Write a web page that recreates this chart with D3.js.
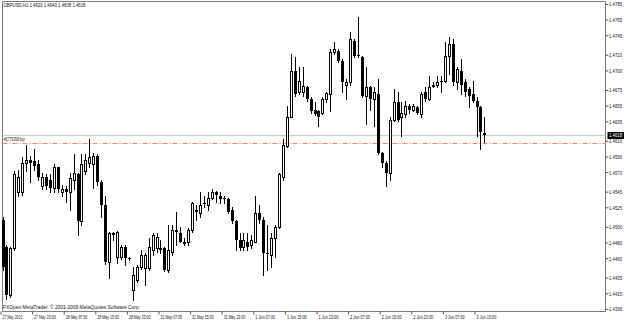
<!DOCTYPE html>
<html>
<head>
<meta charset="utf-8">
<title>GBPUSD,H1</title>
<script src="https://d3js.org/d3.v7.min.js"></script>
<style>
  body{margin:0;background:#fff;}
  svg{display:block;font-family:"Liberation Sans",Arial,sans-serif;}
  .lbl{font-size:5.6px;fill:#111;}
</style>
</head>
<body>
<div id="chart"></div>
<script>
// GBPUSD H1 bars, 27 May 2010 15:00 .. 3 Jun 2010 17:00
const opens = [
  1.4509,1.4474,1.4413,1.4473,1.4545,1.4544,1.4581,1.4585,1.4584,1.4580,
  1.4552,1.4564,1.4560,1.4550,1.4576,1.4545,1.4549,1.4544,1.4560,1.4567,
  1.4507,1.4571,1.4582,1.4580,1.4590,1.4557,1.4528,1.4455,1.4492,1.4462,
  1.4462,1.4474,1.4460,1.4419,1.4432,1.4449,1.4448,1.4448,1.4471,1.4473,
  1.4473,1.4473,1.4445,1.4468,1.4496,1.4492,1.4481,1.4480,1.4496,1.4522,
  1.4518,1.4531,1.4528,1.4537,1.4544,1.4539,1.4537,1.4535,1.4522,1.4507,
  1.4483,1.4474,1.4481,1.4477,1.4481,1.4518,1.4509,1.4467,1.4464,1.4486,
  1.4500,1.4564,1.4603,1.4641,1.4699,1.4672,1.4672,1.4679,1.4663,1.4650,
  1.4648,1.4646,1.4663,1.4670,1.4723,1.4725,1.4712,1.4682,1.4685,1.4738,
  1.4720,1.4717,1.4667,1.4679,1.4663,1.4670,1.4595,1.4582,1.4569,1.4637,
  1.4659,1.4640,1.4644,1.4654,1.4650,1.4653,1.4644,1.4672,1.4663,1.4680,
  1.4681,1.4686,1.4686,1.4718,1.4734,1.4685,1.4699,1.4685,1.4676,1.4670,
  1.4661,1.4653,1.4620
];
const highs = [
  1.4512,1.4477,1.4474,1.4572,1.4573,1.4589,1.4605,1.4590,1.4599,1.4586,
  1.4569,1.4567,1.4567,1.4580,1.4577,1.4554,1.4552,1.4569,1.4593,1.4569,
  1.4593,1.4593,1.4612,1.4595,1.4593,1.4560,1.4539,1.4494,1.4494,1.4495,
  1.4477,1.4477,1.4462,1.4449,1.4451,1.4471,1.4467,1.4486,1.4492,1.4492,
  1.4483,1.4474,1.4503,1.4503,1.4519,1.4500,1.4486,1.4499,1.4532,1.4528,
  1.4544,1.4539,1.4544,1.4548,1.4546,1.4544,1.4540,1.4537,1.4525,1.4509,
  1.4492,1.4492,1.4492,1.4490,1.4539,1.4528,1.4512,1.4503,1.4492,1.4503,
  1.4569,1.4612,1.4654,1.4721,1.4717,1.4705,1.4705,1.4680,1.4666,1.4659,
  1.4650,1.4666,1.4673,1.4727,1.4736,1.4727,1.4714,1.4689,1.4749,1.4740,
  1.4768,1.4718,1.4704,1.4680,1.4679,1.4689,1.4596,1.4584,1.4640,1.4676,
  1.4673,1.4659,1.4661,1.4657,1.4657,1.4654,1.4672,1.4679,1.4693,1.4685,
  1.4693,1.4693,1.4736,1.4743,1.4740,1.4705,1.4714,1.4689,1.4679,1.4686,
  1.4666,1.4654,1.4640
];
const lows = [
  1.4445,1.4408,1.4410,1.4471,1.4539,1.4541,1.4571,1.4557,1.4573,1.4560,
  1.4549,1.4548,1.4545,1.4544,1.4544,1.4539,1.4532,1.4522,1.4548,1.4490,
  1.4503,1.4567,1.4576,1.4550,1.4554,1.4513,1.4453,1.4435,1.4483,1.4454,
  1.4459,1.4451,1.4458,1.4407,1.4430,1.4446,1.4426,1.4445,1.4464,1.4468,
  1.4467,1.4444,1.4442,1.4464,1.4477,1.4480,1.4477,1.4477,1.4494,1.4509,
  1.4512,1.4526,1.4522,1.4535,1.4532,1.4531,1.4531,1.4518,1.4505,1.4471,
  1.4471,1.4471,1.4471,1.4473,1.4480,1.4505,1.4439,1.4445,1.4449,1.4462,
  1.4499,1.4560,1.4602,1.4640,1.4667,1.4670,1.4667,1.4661,1.4646,1.4643,
  1.4629,1.4644,1.4659,1.4648,1.4721,1.4711,1.4672,1.4663,1.4682,1.4717,
  1.4717,1.4666,1.4631,1.4650,1.4629,1.4593,1.4576,1.4552,1.4560,1.4635,
  1.4635,1.4616,1.4641,1.4646,1.4648,1.4644,1.4641,1.4661,1.4662,1.4679,
  1.4679,1.4673,1.4685,1.4695,1.4682,1.4676,1.4670,1.4667,1.4653,1.4659,
  1.4616,1.4599,1.4608
];
const closes = [
  1.4449,1.4413,1.4473,1.4567,1.4564,1.4581,1.4585,1.4582,1.4578,1.4564,
  1.4564,1.4552,1.4550,1.4576,1.4548,1.4549,1.4545,1.4563,1.4569,1.4507,
  1.4580,1.4586,1.4589,1.4590,1.4557,1.4528,1.4455,1.4492,1.4490,1.4494,
  1.4474,1.4460,1.4459,1.4439,1.4449,1.4464,1.4464,1.4474,1.4490,1.4487,
  1.4471,1.4445,1.4471,1.4496,1.4494,1.4481,1.4478,1.4496,1.4531,1.4519,
  1.4528,1.4530,1.4537,1.4544,1.4541,1.4535,1.4536,1.4519,1.4507,1.4483,
  1.4473,1.4483,1.4474,1.4483,1.4518,1.4509,1.4467,1.4466,1.4486,1.4500,
  1.4567,1.4605,1.4641,1.4699,1.4670,1.4686,1.4680,1.4663,1.4648,1.4644,
  1.4640,1.4663,1.4671,1.4723,1.4727,1.4712,1.4685,1.4685,1.4740,1.4718,
  1.4718,1.4667,1.4679,1.4663,1.4672,1.4595,1.4582,1.4569,1.4637,1.4659,
  1.4637,1.4646,1.4654,1.4650,1.4654,1.4646,1.4670,1.4663,1.4679,1.4681,
  1.4685,1.4685,1.4718,1.4734,1.4685,1.4702,1.4682,1.4673,1.4667,1.4661,
  1.4653,1.4621,1.4618
];

const timeLabels = ['27 May 2010','27 May 23:00','28 May 07:00','28 May 15:00','28 May 23:00',
  '31 May 07:00','31 May 15:00','31 May 23:00','1 Jun 07:00','1 Jun 15:00','1 Jun 23:00',
  '2 Jun 07:00','2 Jun 15:00','2 Jun 23:00','3 Jun 07:00','3 Jun 15:00'];
const timeLabelBars = [0,8,16,24,32,40,48,56,64,72,80,88,96,104,112,120];

const priceTicks = [1.4785,1.4765,1.4745,1.4720,1.4700,1.4675,1.4655,1.4635,1.4610,1.4590,
  1.4570,1.4545,1.4525,1.4500,1.4480,1.4460,1.4435,1.4415,1.4395];

const titleText = 'GBPUSD,H1  1.4620 1.4640 1.4608 1.4618';
const bidPrice = 1.4618;
const orderPrice = 1.4607;
const orderLabel = '#2779358 buy';
const copyText = 'FXOpen MetaTrader, \u00a9 2001-2009 MetaQuotes Software Corp.';

const W = 625, H = 321;
const fLeft = 2.5, fRight = 605.5, fTop = 1.5, fBottom = 311.5;

const svg = d3.select('#chart').append('svg').attr('width', W).attr('height', H);
svg.append('rect').attr('width', W).attr('height', H).attr('fill', '#fff');

const x = d3.scaleLinear().domain([0, opens.length - 1]).range([2.5, 484.4]);
const y = d3.scaleLinear().domain([1.43924, 1.47875]).range([311, 2]);

const bars = opens.map((o, i) => ({i: i, o: o, h: highs[i], l: lows[i], c: closes[i]}));

// frame
svg.append('path')
  .attr('d', `M${fLeft},${fBottom}V${fTop}H${fRight}V${fBottom}H${fLeft}`)
  .attr('fill', 'none').attr('stroke', '#7a7a7a').attr('stroke-width', 1);

// bid line and order line
svg.append('line').attr('x1', fLeft).attr('x2', fRight)
  .attr('y1', Math.round(y(bidPrice)) + 0.5).attr('y2', Math.round(y(bidPrice)) + 0.5)
  .attr('stroke', '#c8c8c8');
svg.append('line').attr('x1', fLeft).attr('x2', fRight)
  .attr('y1', Math.round(y(orderPrice)) + 0.5).attr('y2', Math.round(y(orderPrice)) + 0.5)
  .attr('stroke', '#f58a5e').attr('stroke-dasharray', '5,2,1,2');

// candles
const g = svg.append('g');
const cx = d => Math.round(x(d.i)) + 0.5;
g.selectAll('line.wick').data(bars).enter().append('line')
  .attr('class', 'wick')
  .attr('x1', cx).attr('x2', cx)
  .attr('y1', d => Math.round(y(d.h)))
  .attr('y2', d => Math.round(y(d.l)) + 1)
  .attr('stroke', '#000').attr('stroke-width', 1);

g.selectAll('rect.body').data(bars).enter().append('rect')
  .attr('class', 'body')
  .attr('x', d => d.c >= d.o ? cx(d) - 1 : cx(d) - 1.5)
  .attr('width', d => d.c >= d.o ? 2 : 3)
  .attr('y', d => {
    const t = Math.round(y(Math.max(d.o, d.c)));
    return d.c >= d.o ? t + 0.5 : t;
  })
  .attr('height', d => {
    const t = Math.round(y(Math.max(d.o, d.c)));
    const b = Math.round(y(Math.min(d.o, d.c)));
    return d.c >= d.o ? Math.max(0, b - t) : Math.max(1, b - t);
  })
  .attr('fill', d => d.c >= d.o ? '#fff' : '#000')
  .attr('stroke', d => d.c >= d.o ? '#000' : 'none')
  .attr('stroke-width', 1);

// price axis
const yAxis = svg.append('g')
  .attr('transform', `translate(${fRight},0)`)
  .call(d3.axisRight(y).tickValues(priceTicks).tickSize(3).tickSizeOuter(0)
    .tickFormat(d3.format('.4f')));
yAxis.select('.domain').remove();
yAxis.attr('font-size', null).attr('font-family', null);
yAxis.selectAll('.tick line').attr('stroke', '#555');
yAxis.selectAll('.tick text')
  .attr('class', 'lbl').attr('x', 3.5).attr('dy', '0.34em')
  .attr('font-size', null).attr('font-family', null).attr('fill', null)
  .attr('textLength', 13).attr('lengthAdjust', 'spacingAndGlyphs');

// current price box
const by = Math.round(y(bidPrice));
svg.append('rect').attr('x', 607.5).attr('y', by - 3).attr('width', 16.5).attr('height', 7)
  .attr('fill', '#000');
svg.append('text').attr('class', 'lbl').attr('x', 609).attr('y', by + 0.5).attr('dy', '0.34em')
  .style('fill', '#fff').attr('textLength', 13).attr('lengthAdjust', 'spacingAndGlyphs')
  .text(bidPrice.toFixed(4));

// time axis
const xAxis = svg.append('g')
  .attr('transform', `translate(-2,${fBottom})`)
  .call(d3.axisBottom(x).tickValues(timeLabelBars).tickSize(3).tickSizeOuter(0)
    .tickFormat((d, i) => timeLabels[i]));
xAxis.select('.domain').remove();
xAxis.attr('font-size', null).attr('font-family', null);
xAxis.selectAll('.tick line').attr('stroke', '#555');
xAxis.selectAll('.tick text')
  .attr('class', 'lbl').attr('x', 1.5).attr('y', 5.5).attr('dy', '0.34em')
  .attr('text-anchor', 'start')
  .attr('font-size', null).attr('font-family', null).attr('fill', null)
  .attr('textLength', (d, i) => timeLabels[i].length * 1.8)
  .attr('lengthAdjust', 'spacingAndGlyphs');

// texts
svg.append('text').attr('class', 'lbl').attr('x', 3.5).attr('y', 5.5).attr('dy', '0.34em')
  .attr('textLength', 82).attr('lengthAdjust', 'spacingAndGlyphs').text(titleText);
svg.append('text').attr('class', 'lbl').attr('x', 4).attr('y', Math.round(y(orderPrice)) - 4)
  .attr('dy', '0.34em').attr('textLength', 21).attr('lengthAdjust', 'spacingAndGlyphs')
  .text(orderLabel);
svg.append('text').attr('class', 'lbl').attr('x', 3).attr('y', 307.5).attr('dy', '0.34em')
  .attr('textLength', 137).attr('lengthAdjust', 'spacingAndGlyphs').text(copyText);
</script>
</body>
</html>
